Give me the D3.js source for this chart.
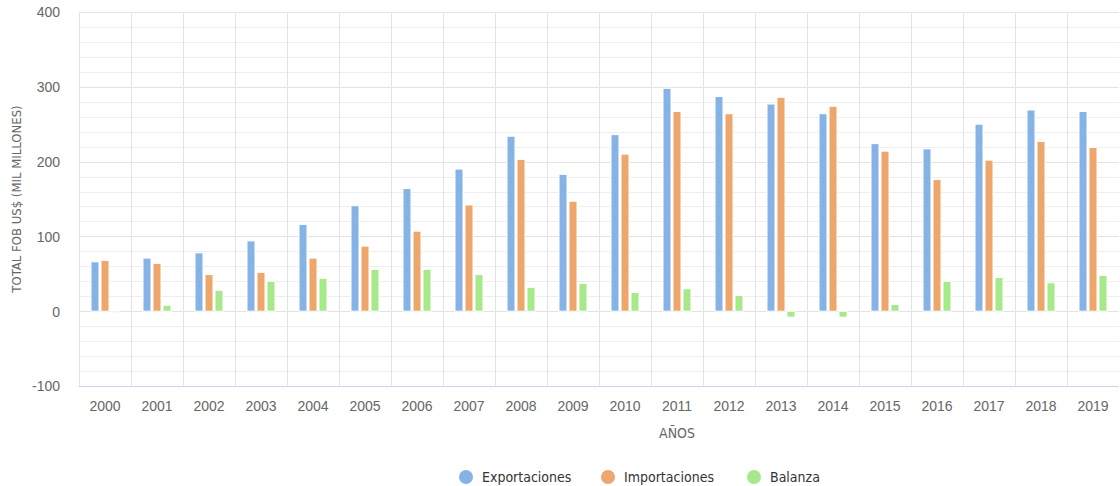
<!DOCTYPE html>
<html>
<head>
<meta charset="utf-8">
<script src="https://cdn.jsdelivr.net/npm/d3@7"></script>
<style>
  body { margin: 0; background: #fff; }
  svg { display: block; font-family: "Liberation Sans Narrow", "DejaVu Sans Condensed", "Roboto", sans-serif; }
</style>
</head>
<body>
<svg width="1120" height="486"></svg>
<script>
const years = ['2000','2001','2002','2003','2004','2005','2006','2007','2008','2009',
               '2010','2011','2012','2013','2014','2015','2016','2017','2018','2019'];
const exportaciones = [66, 71, 78, 94, 116, 141, 164, 190, 234, 183, 236, 298, 287, 277, 264, 224, 217, 250, 269, 267];
const importaciones = [68, 64, 49, 52, 71, 87, 107, 142, 203, 147, 210, 267, 264, 286, 274, 214, 176, 202, 227, 219];
const balanza = [-2, 8, 28, 40, 44, 56, 56, 49, 32, 37, 25, 30, 21, -8, -8, 9, 40, 45, 38, 48];
const seriesNames = ['Exportaciones', 'Importaciones', 'Balanza'];
const colors = ['#86b3e5', '#eea66a', '#a6e98a'];
const yTicks = [-100, 0, 100, 200, 300, 400];

const svg = d3.select('svg');
const margin = { left: 79, right: 1, top: 12, bottom: 100 };
const width = +svg.attr('width');
const height = +svg.attr('height');

const seriesData = [exportaciones, importaciones, balanza];

const x0 = d3.scaleBand()
    .domain(years)
    .range([margin.left, width - margin.right]);

const x1 = d3.scaleBand()
    .domain(seriesNames)
    .range([0, x0.bandwidth()])
    .paddingInner(0.2)
    .paddingOuter(1.2);

const y = d3.scaleLinear()
    .domain([-100, 400])
    .range([height - margin.bottom, margin.top]);

// minor grid
svg.append('g')
  .selectAll('line')
  .data(d3.range(-100, 401, 20))
    .join('line')
      .attr('x1', margin.left)
      .attr('x2', width - margin.right)
      .attr('y1', d => Math.round(y(d)) + 0.5)
      .attr('y2', d => Math.round(y(d)) + 0.5)
      .attr('stroke', '#eeeeee');

// major grid
svg.append('g')
  .selectAll('line')
  .data(yTicks)
    .join('line')
      .attr('x1', margin.left)
      .attr('x2', width - margin.right)
      .attr('y1', d => Math.round(y(d)) + 0.5)
      .attr('y2', d => Math.round(y(d)) + 0.5)
      .attr('stroke', '#e3e3e3');

// vertical category lines
svg.append('g')
  .selectAll('line')
  .data(years)
    .join('line')
      .attr('x1', d => Math.round(x0(d)) + 0.5)
      .attr('x2', d => Math.round(x0(d)) + 0.5)
      .attr('y1', y(400))
      .attr('y2', y(-100))
      .attr('stroke', '#e3e3e3');

// bars
const groups = svg.append('g')
  .selectAll('g')
  .data(seriesNames)
    .join('g')
      .attr('fill', (d, i) => colors[i]);

groups.selectAll('rect')
  .data((name, i) => seriesData[i].map((v, j) => ({ name, year: years[j], value: v })))
    .join('rect')
      .attr('x', d => x0(d.year) + x1(d.name))
      .attr('width', x1.bandwidth())
      .attr('y', d => y(Math.max(0, d.value)))
      .attr('height', d => Math.abs(y(d.value) - y(0)))
      .attr('stroke', '#ffffff')
      .attr('stroke-width', 1);

// x axis line
svg.append('line')
    .attr('x1', margin.left)
    .attr('x2', width - margin.right)
    .attr('y1', y(-100) + 0.5)
    .attr('y2', y(-100) + 0.5)
    .attr('stroke', '#ccd6eb');

// y axis labels
const yAxis = d3.axisLeft(y).tickValues(yTicks).tickFormat(d => String(d)).tickSize(0).tickPadding(0);
svg.append('g')
    .attr('transform', `translate(60, 0)`)
    .call(yAxis)
    .call(g => g.select('.domain').remove())
    .call(g => g.selectAll('text')
        .attr('fill', '#666')
        .attr('font-size', 14)
        .attr('dy', '0.35em')
        .style('font-family', 'inherit'));

// x axis labels
const xAxis = d3.axisBottom(x0).tickSize(0).tickPadding(0);
svg.append('g')
    .attr('transform', `translate(0, ${y(-100) + 20})`)
    .call(xAxis)
    .call(g => g.select('.domain').remove())
    .call(g => g.selectAll('text')
        .attr('fill', '#666')
        .attr('font-size', 14)
        .attr('dy', '0.35em')
        .style('font-family', 'inherit'));

// axis titles
svg.append('text')
    .attr('transform', `translate(21, ${(y(400) + y(-100)) / 2}) rotate(-90)`)
    .attr('text-anchor', 'middle')
    .attr('fill', '#666')
    .attr('font-size', 13)
    .text('TOTAL FOB US$ (MIL MILLONES)');

svg.append('text')
    .attr('x', 677)
    .attr('y', 438)
    .attr('text-anchor', 'middle')
    .attr('fill', '#666')
    .attr('font-size', 14)
    .text('AÑOS');

// legend
const legendX = [466, 608, 754];
const legend = svg.append('g')
  .selectAll('g')
  .data(seriesNames)
    .join('g')
      .attr('transform', (d, i) => `translate(${legendX[i]}, 477)`);

legend.append('circle')
    .attr('r', 7)
    .attr('fill', (d, i) => colors[i]);

legend.append('text')
    .attr('x', 16)
    .attr('dy', '0.35em')
    .attr('fill', '#333')
    .attr('font-size', 14)
    .text(d => d);
</script>
</body>
</html>
